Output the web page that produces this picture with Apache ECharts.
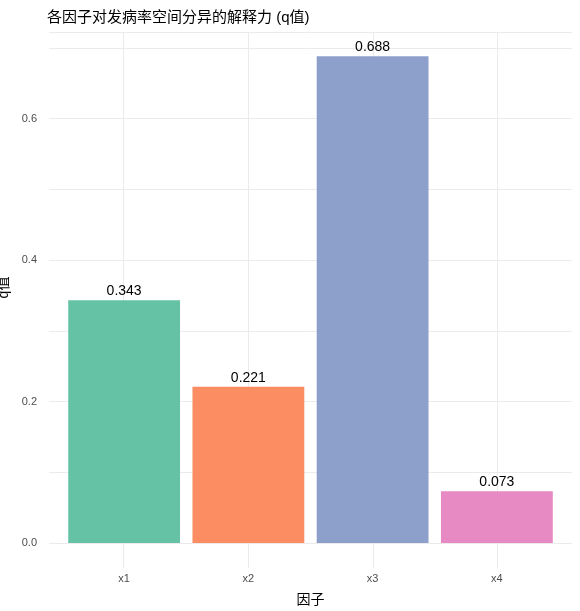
<!DOCTYPE html>
<html><head><meta charset="utf-8">
<script src="https://cdn.jsdelivr.net/npm/echarts@6/dist/echarts.min.js"></script>
<style>html,body{margin:0;padding:0;background:#fff}#c{width:580px;height:611px}</style>
</head><body><div id="c"></div>
<script>
const categories = ['x1','x2','x3','x4'];
const qValues = [0.343, 0.221, 0.688, 0.073];
const colors = ['#66C2A5','#FC8D62','#8DA0CB','#E78AC3'];
const yTicks = [0, 0.2, 0.4, 0.6];
const font = '"Liberation Sans", "Noto Sans CJK SC", sans-serif';
const chart = echarts.init(document.getElementById('c'));
const yMax = 0.7224;
chart.setOption({
  animation: false,
  title: {text: '各因子对发病率空间分异的解释力 (q值)', left: 42, top: 5,
    textStyle: {fontFamily: font, fontSize: 15, fontWeight: 'normal', color: '#000'}},
  grid: [
    {left: 49, right: 8, top: 32, bottom: 68, outerBoundsMode: 'none', containLabel: false},
    {left: 62, right: 21, top: 32, bottom: 68, outerBoundsMode: 'none', containLabel: false}
  ],
  xAxis: [
    {gridIndex: 0, type: 'value', min: -0.6, max: 3.6, show: false},
    {gridIndex: 1, type: 'category', data: categories,
     axisLine: {show: false}, axisTick: {show: false},
     axisLabel: {color: '#4d4d4d', fontSize: 11, margin: 30, fontFamily: font},
     name: '因子', nameLocation: 'middle', nameGap: 50,
     nameTextStyle: {fontFamily: font, fontSize: 14, color: '#000'}}
  ],
  yAxis: [
    {gridIndex: 0, type: 'value', min: 0, max: yMax, interval: 0.1,
     axisLine: {show: false}, axisTick: {show: false}, axisLabel: {show: false},
     splitLine: {lineStyle: {color: '#ebebeb', width: 1}}},
    {gridIndex: 1, type: 'value', min: 0, max: yMax, interval: 0.1,
     axisLine: {show: false}, axisTick: {show: false},
     axisLabel: {color: '#4d4d4d', fontSize: 11, margin: 25, fontFamily: font,
       formatter: v => yTicks.some(t => Math.abs(t - v) < 1e-6) ? v.toFixed(1) : ''},
     splitLine: {show: false},
     name: 'q值', nameLocation: 'middle', nameGap: 40, nameRotate: 90,
     nameTextStyle: {fontFamily: font, fontSize: 14, color: '#000'}}
  ],
  series: [{
    type: 'scatter', xAxisIndex: 0, yAxisIndex: 0, data: [], z: 1,
    markLine: {silent: true, symbol: 'none', label: {show: false}, z: 1,
      lineStyle: {color: '#ebebeb', type: 'solid', width: 1},
      data: categories.map((c, i) => [{coord: [i, 0], y: 32}, {coord: [i, 0], y: 568}])}
  }, {
    type: 'bar', xAxisIndex: 1, yAxisIndex: 1, barCategoryGap: '10%',
    data: qValues.map((v, i) => ({value: v, itemStyle: {color: colors[i]}})),
    label: {show: true, position: 'top', distance: 2, color: '#000', fontSize: 14,
      fontFamily: font, formatter: p => p.value.toFixed(3)},
    z: 3
  }]
});
</script></body></html>
